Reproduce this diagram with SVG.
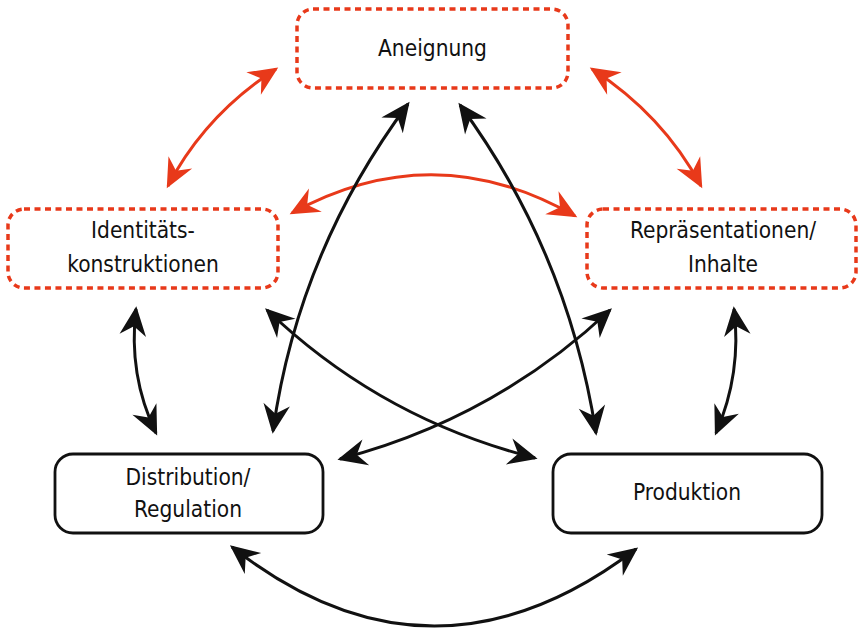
<svg xmlns="http://www.w3.org/2000/svg" width="858" height="628" viewBox="0 0 858 628">
<style>
  .red { fill: #fff; stroke: #e8391a; stroke-width: 3.5; stroke-dasharray: 6 4.5; }
  .blk { fill: #fff; stroke: #111; stroke-width: 2.8; }
  .lbl { font-family: "DejaVu Sans Condensed", "DejaVu Sans", sans-serif; font-stretch: condensed; font-size: 22.5px; fill: #111; text-anchor: middle; }
  .cr { fill: none; stroke: #e8391a; stroke-width: 3; marker-start: url(#ar); marker-end: url(#ar); }
  .cb { fill: none; stroke: #111; stroke-width: 3; marker-start: url(#ab); marker-end: url(#ab); }
</style>
<defs>
  <marker id="ar" markerUnits="userSpaceOnUse" markerWidth="40" markerHeight="40" viewBox="-24 -12 30 24" refX="0" refY="0" orient="auto-start-reverse">
    <path d="M2,0 L-20,-10 L-13,0 L-20,10 Z" fill="#e8391a"/>
  </marker>
  <marker id="ab" markerUnits="userSpaceOnUse" markerWidth="40" markerHeight="40" viewBox="-24 -12 30 24" refX="0" refY="0" orient="auto-start-reverse">
    <path d="M2,0 L-20,-10 L-13,0 L-20,10 Z" fill="#111"/>
  </marker>
</defs>
<rect width="858" height="628" fill="#fff"/>
<g id="connectors">
  <path class="cr" d="M168,186 Q205,115 276,69"/>
  <path class="cr" d="M592,69 Q663,115 701,186"/>
  <path class="cr" d="M292,213 Q434,135 575,216"/>
  <path class="cb" d="M273,431 Q298,252 408,104"/>
  <path class="cb" d="M460,105 Q568,252 596,433"/>
  <path class="cb" d="M136,309 Q128,375 156,433"/>
  <path class="cb" d="M734,309 Q742,373 716,433"/>
  <path class="cb" d="M267,310 Q381,419 535,458"/>
  <path class="cb" d="M610,310 Q494,419 340,459"/>
  <path class="cb" d="M232,547 Q432,704 636,549"/>
</g>
<g id="aneignung">
  <rect class="red" x="297" y="9" width="271" height="79" rx="16"/>
  <text class="lbl" x="432.5" y="56">Aneignung</text>
</g>
<g id="identitaet">
  <rect class="red" x="8" y="209" width="270" height="79" rx="16"/>
  <text class="lbl" x="143" y="238">Identitäts-</text>
  <text class="lbl" x="143" y="272">konstruktionen</text>
</g>
<g id="repraesentationen">
  <rect class="red" x="587" y="209" width="269" height="79" rx="16"/>
  <text class="lbl" x="723" y="238">Repräsentationen/</text>
  <text class="lbl" x="723" y="272">Inhalte</text>
</g>
<g id="distribution">
  <rect class="blk" x="55" y="454" width="268" height="79" rx="18"/>
  <text class="lbl" x="188" y="485">Distribution/</text>
  <text class="lbl" x="188" y="517">Regulation</text>
</g>
<g id="produktion">
  <rect class="blk" x="553" y="454" width="269" height="79" rx="18"/>
  <text class="lbl" x="687" y="500">Produktion</text>
</g>
</svg>
